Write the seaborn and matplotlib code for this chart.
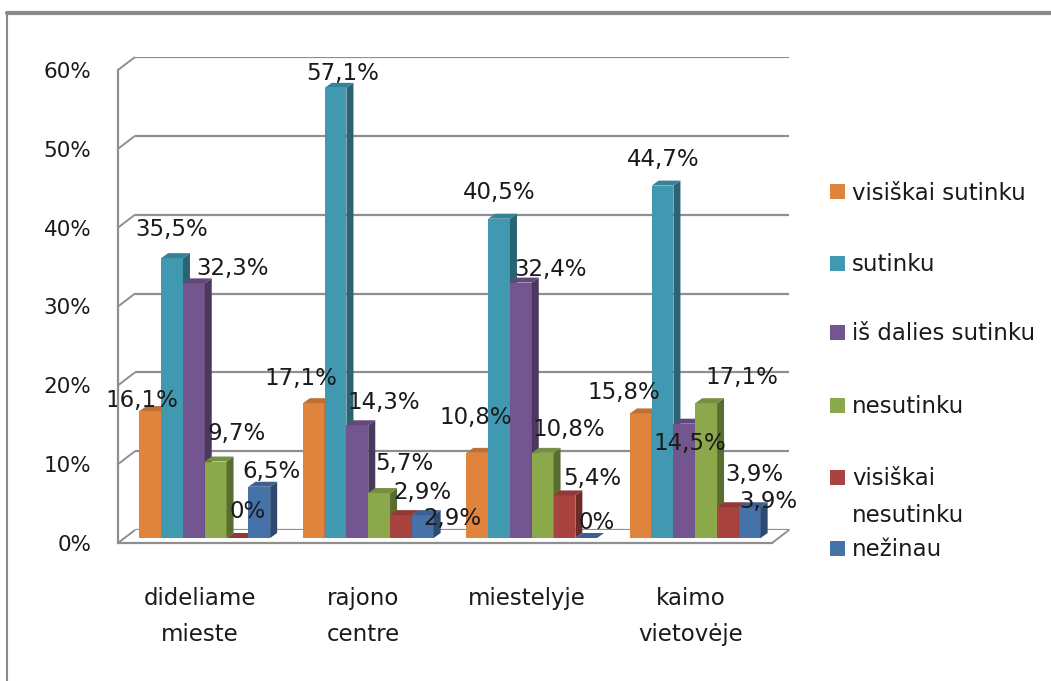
import numpy as np
import pandas as pd
import seaborn as sns
import matplotlib
matplotlib.use("Agg")
import matplotlib.pyplot as plt
from matplotlib.patches import Polygon, Rectangle
from matplotlib.lines import Line2D
import matplotlib.colors as mcolors

# ---------------- data ----------------
categories = ["dideliame\nmieste", "rajono\ncentre", "miestelyje", "kaimo\nvietovėje"]
series_names = ["visiškai sutinku", "sutinku", "iš dalies sutinku",
                "nesutinku", "visiškai nesutinku", "nežinau"]
visiskai_sutinku = [16.1, 17.1, 10.8, 15.8]
sutinku = [35.5, 57.1, 40.5, 44.7]
is_dalies_sutinku = [32.3, 14.3, 32.4, 14.5]
nesutinku = [9.7, 5.7, 10.8, 17.1]
visiskai_nesutinku = [0.0, 2.9, 5.4, 3.9]
nezinau = [6.5, 2.9, 0.0, 3.9]
y_ticks = [0, 10, 20, 30, 40, 50, 60]
legend_labels = ["visiškai sutinku", "sutinku", "iš dalies sutinku",
                 "nesutinku", "visiškai\nnesutinku", "nežinau"]

series_values = [visiskai_sutinku, sutinku, is_dalies_sutinku,
                 nesutinku, visiskai_nesutinku, nezinau]
df = pd.DataFrame([
    {"category": c, "series": s, "value": v}
    for s, vals in zip(series_names, series_values)
    for c, v in zip(categories, vals)
])

# ---------------- style ----------------
colors = ["#E0843D", "#4199B1", "#735690", "#8BA84B", "#A9433F", "#4672AA"]
# data-label offsets (pixels right, pixels up) from each bar's top centre,
# one row per series, one entry per category (as placed in the original)
label_offsets = [
    [(-8, 13), (-13, 27), (-1, 38), (-17, 23)],
    [(0, 31), (7, 17), (0, 29), (1, 29)],
    [(39, 17), (26, 25), (30, 16), (5, -17)],
    [(21, 31), (25, 32), (26, 26), (36, 28)],
    [(10, 29), (21, 25), (28, 19), (26, 35)],
    [(12, 18), (30, -1), (10, 18), (19, 8)],
]
legend_y = [192, 263, 332, 405, 477, 548]
text_color = "#1a1a1a"
grid_color = "#8f8f8f"
FS_TICK = 15.5
FS = 16.5

sns.set_theme(style="white")
plt.rcParams["font.family"] = ["DejaVu Sans"]

W, H = 1051, 681
fig = plt.figure(figsize=(W / 100, H / 100), dpi=100)
fig.patch.set_facecolor("white")

PX_X = 163.5   # pixels per category
PX_Y = 473 / 60  # pixels per percent


def rect(x0, y0):
    return [x0 / W, (H - y0) / H, 4 * PX_X / W, 60 * PX_Y / H]


ax_back = fig.add_axes(rect(135, 530), zorder=0)
ax = fig.add_axes(rect(123, 538), zorder=1)
ax_front = fig.add_axes(rect(118, 543), zorder=2)

# back wall gridlines
ax_back.set_xlim(-0.5, 3.5)
ax_back.set_ylim(0, 60)
ax_back.set_yticks(y_ticks)
ax_back.set_xticks([])
ax_back.tick_params(left=False, labelleft=False)
ax_back.grid(axis="y", color=grid_color, lw=1.6)
for s in ax_back.spines.values():
    s.set_visible(False)
ax_back.set_facecolor("none")

# bars (front faces)
sns.barplot(data=df, x="category", y="value", hue="series",
            order=categories, hue_order=series_names, palette=colors,
            saturation=1, width=0.8, errorbar=None, legend=False,
            edgecolor="none", linewidth=0, ax=ax)
ax.set_xlim(-0.5, 3.5)
ax.set_ylim(0, 60)
ax.set_axis_off()
ax.set_facecolor("none")

ddx = 7 / PX_X
ddy = 5 / PX_Y


def fmt(v):
    if v == 0:
        return "0%"
    return f"{v:.1f}".replace(".", ",") + "%"


for h, cont in enumerate(ax.containers):
    base = mcolors.to_rgb(colors[h])
    side_c = tuple(c * 0.65 for c in base)
    top_c = tuple(c * 0.85 for c in base)
    for ci, bar in enumerate(cont):
        k = ci * 6 + h
        z = 3 + k * 0.01
        bar.set_zorder(z)
        x0, w, hg = bar.get_x(), bar.get_width(), bar.get_height()
        side = Polygon([(x0 + w, 0), (x0 + w + ddx, ddy),
                        (x0 + w + ddx, hg + ddy), (x0 + w, hg)],
                       closed=True, facecolor=side_c, edgecolor="none",
                       zorder=z + 0.001, clip_on=False)
        top = Polygon([(x0, hg), (x0 + w, hg), (x0 + w + ddx, hg + ddy),
                       (x0 + ddx, hg + ddy)],
                      closed=True, facecolor=top_c, edgecolor="none",
                      zorder=z + 0.002, clip_on=False)
        ax.add_patch(side)
        ax.add_patch(top)
        ox, oy = label_offsets[h][ci]
        ax.annotate(fmt(series_values[h][ci]), xy=(x0 + w / 2, hg),
                    xytext=(ox, oy), textcoords="offset pixels",
                    ha="center", va="center_baseline", fontsize=FS,
                    color=text_color, zorder=20, annotation_clip=False)

# front axis
ax_front.set_xlim(-0.5, 3.5)
ax_front.set_ylim(0, 60)
ax_front.set_facecolor("none")
for name in ["top", "right"]:
    ax_front.spines[name].set_visible(False)
for name in ["left", "bottom"]:
    ax_front.spines[name].set_color(grid_color)
    ax_front.spines[name].set_linewidth(1.6)
ax_front.set_yticks(y_ticks)
ax_front.set_yticklabels([f"{v}%" for v in y_ticks])
ax_front.set_xticks([-0.5, 0.5, 1.5, 2.5, 3.5])
ax_front.set_xticklabels([])
ax_front.set_xticks(range(len(categories)), minor=True)
ax_front.set_xticklabels(categories, minor=True, fontsize=FS,
                         color=text_color, linespacing=1.7)
ax_front.tick_params(axis="y", direction="out", length=7.2, width=1.4,
                     color=grid_color, pad=12, labelsize=FS_TICK,
                     labelcolor=text_color)
ax_front.tick_params(axis="x", which="major", direction="out", length=8.6,
                     width=1.4, color=grid_color)
ax_front.tick_params(axis="x", which="minor", length=0, pad=32)
ax_front.set_xlabel("")
ax_front.set_ylabel("")

# diagonals linking front axis and back wall
bdx = 17 / PX_X
bdy = 13 / PX_Y
for v in y_ticks:
    ax_front.plot([-0.5, -0.5 + bdx], [v, v + bdy], color=grid_color,
                  lw=1.4, clip_on=False, solid_capstyle="butt")
ax_front.plot([3.5, 3.5 + bdx], [0, bdy], color=grid_color, lw=1.4,
              clip_on=False)

# legend
for lab, col, yy in zip(legend_labels, colors, legend_y):
    fig.add_artist(Rectangle((830 / W, 1 - (yy + 7.5) / H), 15 / W, 15 / H,
                             transform=fig.transFigure, facecolor=col,
                             edgecolor="none"))
    fig.text(852 / W, 1 - (yy - 10) / H, lab, fontsize=FS, color=text_color,
             ha="left", va="top", linespacing=1.75)

# chart border
fig.add_artist(Line2D([7 / W, 1], [1 - 13 / H, 1 - 13 / H],
                      transform=fig.transFigure, color="#8a8a8a", lw=3))
fig.add_artist(Line2D([7 / W, 7 / W], [0, 1 - 13 / H],
                      transform=fig.transFigure, color="#8a8a8a", lw=1.5))

fig.savefig("out.png", dpi=100, facecolor="white")
